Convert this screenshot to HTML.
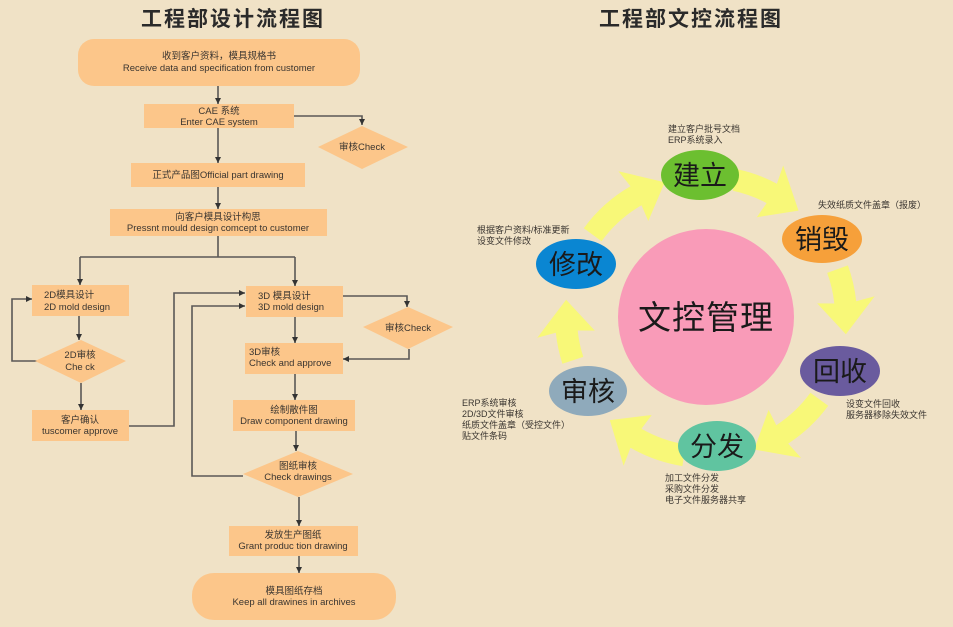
<!DOCTYPE html>
<html><head><meta charset="utf-8"><style>
html,body{margin:0;padding:0;background:#f0e2c6;}
svg{display:block;}
text{font-family:"Liberation Sans","Noto Sans CJK SC",sans-serif;fill:#3a3530;}
.s{font-size:9.5px;}
.l{stroke:#5a5856;stroke-width:1.6;fill:none;}
.b{fill:#fcc68a;}
.n{font-size:9px;fill:#3a3530;}
.big{font-size:27px;fill:#1a1a1a;}
.t{font-size:21px;letter-spacing:2px;fill:#2a2a2a;font-weight:bold;}
</style></head><body>
<svg id="sv" width="953" height="627" viewBox="0 0 953 627" xmlns="http://www.w3.org/2000/svg">
<defs><marker id="a" markerUnits="userSpaceOnUse" markerWidth="6" markerHeight="6" refX="6" refY="3" orient="auto"><path d="M0,0 L6,3 L0,6 z" fill="#333"/></marker></defs>
<rect width="953" height="627" fill="#f0e2c6"/>
<text class="t" x="233" y="26" text-anchor="middle">工程部设计流程图</text>
<text class="t" x="691" y="26" text-anchor="middle">工程部文控流程图</text>

<g class="l">
<path d="M218,86 V104" marker-end="url(#a)"/>
<path d="M294,116 H362 V125" marker-end="url(#a)"/>
<path d="M218,128 V163" marker-end="url(#a)"/>
<path d="M218,187 V209" marker-end="url(#a)"/>
<path d="M218,236 V257"/>
<path d="M80,257 H295"/>
<path d="M80,257 V285" marker-end="url(#a)"/>
<path d="M295,257 V286" marker-end="url(#a)"/>
<path d="M79,316 V340" marker-end="url(#a)"/>
<path d="M37,361 H12 V299 H32" marker-end="url(#a)"/>
<path d="M81,383 V410" marker-end="url(#a)"/>
<path d="M129,426 H174 V293 H245" marker-end="url(#a)"/>
<path d="M343,296 H407 V307" marker-end="url(#a)"/>
<path d="M409,349 V359 H343" marker-end="url(#a)"/>
<path d="M295,317 V343" marker-end="url(#a)"/>
<path d="M295,374 V400" marker-end="url(#a)"/>
<path d="M296,431 V451" marker-end="url(#a)"/>
<path d="M243,476 H192 V306 H245" marker-end="url(#a)"/>
<path d="M299,497 V526" marker-end="url(#a)"/>
<path d="M299,556 V573" marker-end="url(#a)"/>
</g>

<rect class="b" x="78" y="39" width="282" height="47" rx="16"/>
<text class="s" x="219" y="59" text-anchor="middle">收到客户资料，模具规格书</text>
<text class="s" x="219" y="71" text-anchor="middle">Receive data and specification from customer</text>

<rect class="b" x="144" y="104" width="150" height="24"/>
<text class="s" x="219" y="114" text-anchor="middle">CAE 系统</text>
<text class="s" x="219" y="125" text-anchor="middle">Enter CAE system</text>

<polygon class="b" points="318,147 362,126 408,147 362,169"/>
<text class="s" x="362" y="150" text-anchor="middle">审核Check</text>

<rect class="b" x="131" y="163" width="174" height="24"/>
<text class="s" x="218" y="178" text-anchor="middle">正式产品图Official part drawing</text>

<rect class="b" x="110" y="209" width="217" height="27"/>
<text class="s" x="218" y="220" text-anchor="middle">向客户模具设计构思</text>
<text class="s" x="218" y="231" text-anchor="middle">Pressnt mould design comcept to customer</text>

<rect class="b" x="32" y="285" width="97" height="31"/>
<text class="s" x="44" y="298">2D模具设计</text>
<text class="s" x="44" y="310">2D mold design</text>

<polygon class="b" points="35,361 81,340 126,361 81,383"/>
<text class="s" x="80" y="358" text-anchor="middle">2D审核</text>
<text class="s" x="80" y="370" text-anchor="middle">Che ck</text>

<rect class="b" x="32" y="410" width="97" height="31"/>
<text class="s" x="80" y="423" text-anchor="middle">客户确认</text>
<text class="s" x="80" y="434" text-anchor="middle">tuscomer approve</text>

<rect class="b" x="246" y="286" width="97" height="31"/>
<text class="s" x="258" y="299">3D 模具设计</text>
<text class="s" x="258" y="310">3D mold design</text>

<polygon class="b" points="363,327 408,307 453,327 408,349"/>
<text class="s" x="408" y="331" text-anchor="middle">审核Check</text>

<rect class="b" x="245" y="343" width="98" height="31"/>
<text class="s" x="249" y="355">3D审核</text>
<text class="s" x="249" y="366">Check and approve</text>

<rect class="b" x="233" y="400" width="122" height="31"/>
<text class="s" x="294" y="413" text-anchor="middle">绘制散件图</text>
<text class="s" x="294" y="424" text-anchor="middle">Draw component drawing</text>

<polygon class="b" points="243,474 298,451 353,474 298,497"/>
<text class="s" x="298" y="469" text-anchor="middle">图纸审核</text>
<text class="s" x="298" y="480" text-anchor="middle">Check drawings</text>

<rect class="b" x="229" y="526" width="129" height="30"/>
<text class="s" x="293" y="538" text-anchor="middle">发放生产图纸</text>
<text class="s" x="293" y="549" text-anchor="middle">Grant produc tion drawing</text>

<rect class="b" x="192" y="573" width="204" height="47" rx="22"/>
<text class="s" x="294" y="594" text-anchor="middle">模具图纸存档</text>
<text class="s" x="294" y="605" text-anchor="middle">Keep all drawines in archives</text>

<g id="arrows" fill="#f8f878"></g>

<circle cx="706" cy="317" r="88" fill="#f99bb8"/>
<text x="706" y="329" text-anchor="middle" style="font-size:33px;fill:#1a1a1a;letter-spacing:1px">文控管理</text>

<ellipse cx="700" cy="175" rx="39" ry="25" fill="#6cbf30"/>
<text class="big" x="700" y="185" text-anchor="middle">建立</text>
<ellipse cx="822" cy="239" rx="40" ry="24" fill="#f6a03a"/>
<text class="big" x="822" y="249" text-anchor="middle">销毁</text>
<ellipse cx="840" cy="371" rx="40" ry="25" fill="#6a5b9e"/>
<text class="big" x="840" y="381" text-anchor="middle">回收</text>
<ellipse cx="717" cy="446" rx="39" ry="25" fill="#60c4a0"/>
<text class="big" x="717" y="456" text-anchor="middle">分发</text>
<ellipse cx="588" cy="391" rx="39" ry="25" fill="#8faabb"/>
<text class="big" x="588" y="401" text-anchor="middle">审核</text>
<ellipse cx="576" cy="264" rx="40" ry="25" fill="#0a86d2"/>
<text class="big" x="576" y="274" text-anchor="middle">修改</text>

<text class="n" x="668" y="132">建立客户批号文档</text>
<text class="n" x="668" y="143">ERP系统录入</text>
<text class="n" x="818" y="208">失效纸质文件盖章（报废）</text>
<text class="n" x="846" y="407">设变文件回收</text>
<text class="n" x="846" y="418">服务器移除失效文件</text>
<text class="n" x="665" y="481">加工文件分发</text>
<text class="n" x="665" y="492">采购文件分发</text>
<text class="n" x="665" y="503">电子文件服务器共享</text>
<text class="n" x="462" y="406">ERP系统审核</text>
<text class="n" x="462" y="417">2D/3D文件审核</text>
<text class="n" x="462" y="428">纸质文件盖章（受控文件）</text>
<text class="n" x="462" y="439">贴文件条码</text>
<text class="n" x="477" y="233">根据客户资料/标准更新</text>
<text class="n" x="477" y="244">设变文件修改</text>
</svg>
<script>
(function(){
var cx=706,cy=317,g=document.getElementById('arrows');
function p(r,a){a=a*Math.PI/180;return (cx+r*Math.cos(a)).toFixed(1)+','+(cy+r*Math.sin(a)).toFixed(1);}
var nodes=[202,268,326,382,445,508];
for(var i=0;i<6;i++){
 var from=nodes[i],to=nodes[i+1]||nodes[0]+360;
 var s=from+14,b=to-28,t=to-15,ri=129,ro=151;
 var d='M'+p(ro,s)+' A'+ro+','+ro+' 0 0 1 '+p(ro,b)+' L'+p(170,b-1)+' L'+p(141,t)+' L'+p(112,b-1)+' L'+p(ri,b)+' A'+ri+','+ri+' 0 0 0 '+p(ri,s)+' Z';
 var e=document.createElementNS('http://www.w3.org/2000/svg','path');
 e.setAttribute('d',d);g.appendChild(e);
}
})();
</script>
</body></html>
